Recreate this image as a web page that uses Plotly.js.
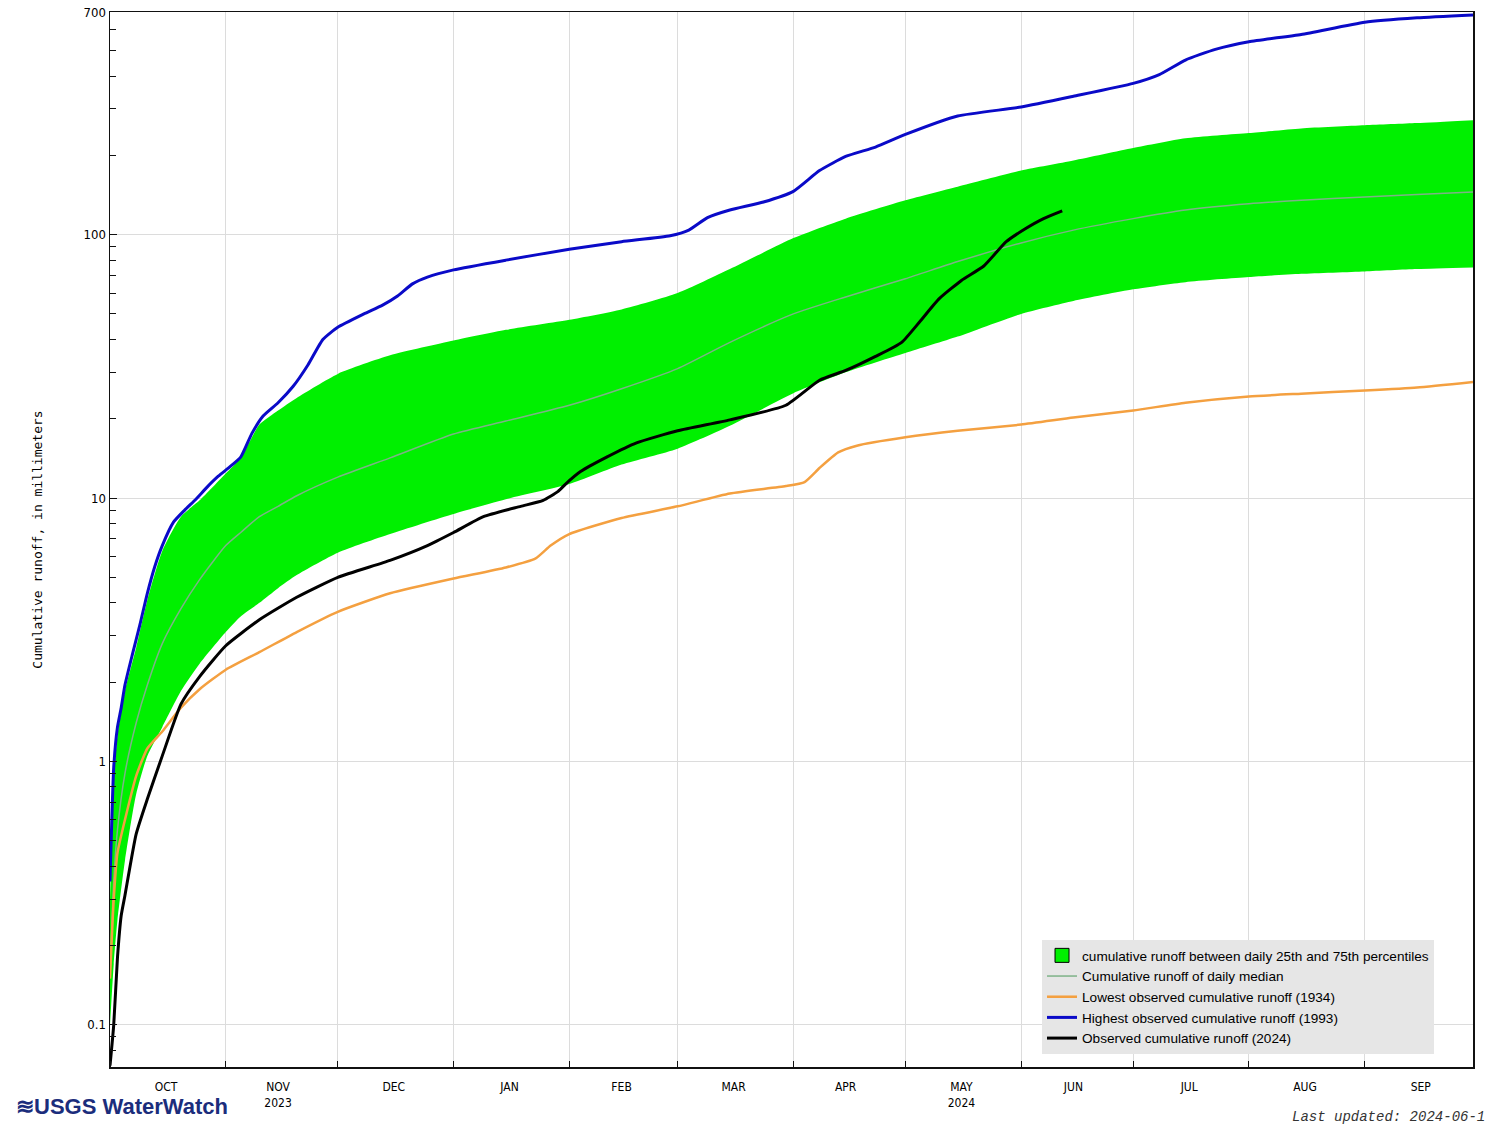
<!DOCTYPE html>
<html>
<head>
<meta charset="utf-8">
<script src="https://cdn.plot.ly/plotly-3.0.1.min.js"></script>
<style>
  html, body { margin: 0; padding: 0; background: #ffffff; }
  #chart { width: 1495px; height: 1126px; }
</style>
</head>
<body>
<div id="chart"></div>
<script>
// ---- Data (cumulative runoff, millimeters), water year Oct 2023 - Sep 2024 ----
const envelopeDates = ['2023-10-01','2023-10-02','2023-10-03','2023-10-05','2023-10-08','2023-10-11','2023-10-15','2023-10-20','2023-10-25','2023-11-01','2023-11-05','2023-11-10','2023-11-15','2023-11-20','2023-12-01','2023-12-15','2024-01-01','2024-01-15','2024-02-01','2024-02-15','2024-03-01','2024-03-15','2024-04-01','2024-04-15','2024-05-01','2024-05-15','2024-06-01','2024-06-15','2024-07-01','2024-07-15','2024-08-01','2024-08-15','2024-09-01','2024-09-15','2024-09-30'];
const p75 = [0.3, 0.85, 1.25, 1.85, 2.7, 4.1, 6.3, 8.5, 9.8, 12.4, 14.2, 19, 21.5, 24, 29.6, 34.8, 39.6, 43.5, 47.5, 52, 60, 74, 97, 115, 135, 152, 175, 191, 213, 232, 243, 253, 260, 265, 272];
const p25 = [0.1, 0.17, 0.25, 0.42, 0.75, 1.05, 1.35, 1.85, 2.35, 3.1, 3.55, 4.0, 4.55, 5.1, 6.2, 7.3, 8.7, 9.9, 11.3, 13.4, 15.4, 18.8, 25, 30, 35.5, 41, 50, 56, 62, 66, 69, 71, 72.5, 74, 75];
const median = [0.15, 0.35, 0.55, 0.9, 1.4, 1.95, 2.8, 3.8, 4.9, 6.6, 7.4, 8.5, 9.3, 10.2, 12.0, 14.2, 17.5, 19.6, 22.5, 26, 31, 39, 50, 58, 68, 79, 93, 104, 115, 124, 131, 135, 139, 142, 145];

const highDates = ['2023-10-01','2023-10-02','2023-10-03','2023-10-04','2023-10-05','2023-10-07','2023-10-09','2023-10-11','2023-10-13','2023-10-15','2023-10-18','2023-10-21','2023-10-24','2023-10-27','2023-10-30','2023-11-02','2023-11-05','2023-11-08','2023-11-11','2023-11-15','2023-11-19','2023-11-23','2023-11-27','2023-12-01','2023-12-08','2023-12-13','2023-12-17','2023-12-21','2023-12-25','2024-01-01','2024-01-15','2024-02-01','2024-02-15','2024-02-28','2024-03-04','2024-03-09','2024-03-15','2024-03-24','2024-04-01','2024-04-08','2024-04-15','2024-04-23','2024-05-01','2024-05-15','2024-06-01','2024-06-15','2024-07-01','2024-07-08','2024-07-15','2024-07-23','2024-08-01','2024-08-15','2024-09-01','2024-09-15','2024-09-30'];
const high1993 = [0.35, 0.95, 1.35, 1.6, 1.95, 2.55, 3.3, 4.35, 5.5, 6.6, 8.1, 9.0, 9.9, 11.0, 12.1, 13.1, 14.3, 17.6, 20.5, 23.0, 26.5, 32, 40, 44.5, 50, 54, 58.5, 65, 69, 73.5, 80, 88, 94, 99, 104, 116, 124, 133, 146, 175, 198, 215, 240, 282, 305, 335, 375, 405, 460, 505, 540, 575, 640, 665, 682];

const lowDates = ['2023-10-01','2023-10-02','2023-10-03','2023-10-05','2023-10-08','2023-10-11','2023-10-15','2023-10-20','2023-10-25','2023-11-01','2023-11-10','2023-11-20','2023-12-01','2023-12-15','2024-01-01','2024-01-15','2024-01-23','2024-01-27','2024-02-01','2024-02-15','2024-03-01','2024-03-15','2024-03-30','2024-04-04','2024-04-08','2024-04-13','2024-04-18','2024-05-01','2024-05-15','2024-06-01','2024-06-15','2024-07-01','2024-07-15','2024-08-01','2024-08-15','2024-09-01','2024-09-15','2024-09-30'];
const low1934 = [0.15, 0.3, 0.45, 0.6, 0.88, 1.12, 1.3, 1.6, 1.88, 2.23, 2.6, 3.1, 3.7, 4.35, 4.95, 5.45, 5.9, 6.6, 7.3, 8.4, 9.3, 10.4, 11.1, 11.5, 13.0, 14.9, 15.8, 17, 18, 19, 20.2, 21.5, 23, 24.3, 24.9, 25.6, 26.3, 27.6];

const obsDates = ['2023-10-01','2023-10-02','2023-10-03','2023-10-04','2023-10-05','2023-10-08','2023-10-11','2023-10-15','2023-10-20','2023-10-25','2023-11-01','2023-11-10','2023-11-20','2023-12-01','2023-12-15','2023-12-25','2024-01-01','2024-01-09','2024-01-19','2024-01-25','2024-01-29','2024-01-31','2024-02-04','2024-02-11','2024-02-19','2024-03-01','2024-03-15','2024-03-30','2024-04-08','2024-04-15','2024-04-23','2024-04-30','2024-05-05','2024-05-10','2024-05-16','2024-05-22','2024-05-28','2024-06-02','2024-06-07','2024-06-12'];
const obs2024 = [0.07, 0.1, 0.18, 0.26, 0.31, 0.53, 0.72, 1.05, 1.65, 2.1, 2.75, 3.45, 4.2, 5.0, 5.8, 6.6, 7.4, 8.5, 9.3, 9.8, 10.6, 11.3, 12.6, 14.3, 16.2, 18, 19.8, 22.5, 28, 30.5, 34.5, 39, 47, 57, 67, 76, 94, 105, 115, 123];

// ---- Axis labels ----
const monthStarts = ['2023-10-01','2023-11-01','2023-12-01','2024-01-01','2024-02-01','2024-03-01','2024-04-01','2024-05-01','2024-06-01','2024-07-01','2024-08-01','2024-09-01'];
const monthMids = ['2023-10-16','2023-11-15','2023-12-16','2024-01-16','2024-02-15','2024-03-16','2024-04-15','2024-05-16','2024-06-15','2024-07-16','2024-08-16','2024-09-16'];
const monthLabels = ['OCT','NOV<br>2023','DEC','JAN','FEB','MAR','APR','MAY<br>2024','JUN','JUL','AUG','SEP'];
const yTickVals = [0.1, 1, 10, 100, 700];
const yTickText = ['0.1', '1', '10', '100', '700'];
const yMinorVals = [0.08,0.09,0.2,0.3,0.4,0.5,0.6,0.7,0.8,0.9,2,3,4,5,6,7,8,9,20,30,40,50,60,70,80,90,200,300,400,500,600];

const legendNames = [
  'cumulative runoff between daily 25th and 75th percentiles',
  'Cumulative runoff of daily median',
  'Lowest observed cumulative runoff (1934)',
  'Highest observed cumulative runoff (1993)',
  'Observed cumulative runoff (2024)'
];

const GREEN = '#00f000';
const traces = [
  { x: envelopeDates, y: p25, type: 'scatter', mode: 'lines', line: { color: GREEN, width: 0, shape: 'spline', smoothing: 0.6 }, showlegend: false, hoverinfo: 'skip' },
  { x: envelopeDates, y: p75, type: 'scatter', mode: 'lines', fill: 'tonexty', fillcolor: GREEN, line: { color: GREEN, width: 0, shape: 'spline', smoothing: 0.6 }, showlegend: false, hoverinfo: 'skip' },
  { x: [null], y: [null], type: 'scatter', mode: 'markers', name: legendNames[0], marker: { symbol: 'square', size: 14, color: GREEN, line: { color: '#000', width: 1 } } },
  { x: envelopeDates, y: median, type: 'scatter', mode: 'lines', name: legendNames[1], line: { color: 'rgb(125,178,135)', width: 1.5, shape: 'spline', smoothing: 0.6 } },
  { x: lowDates, y: low1934, type: 'scatter', mode: 'lines', name: legendNames[2], line: { color: '#f4a040', width: 2.5, shape: 'spline', smoothing: 0.5 } },
  { x: highDates, y: high1993, type: 'scatter', mode: 'lines', name: legendNames[3], line: { color: '#0a0ac8', width: 3, shape: 'spline', smoothing: 0.5 } },
  { x: obsDates, y: obs2024, type: 'scatter', mode: 'lines', name: legendNames[4], line: { color: '#000000', width: 3, shape: 'spline', smoothing: 0.5 } }
];

const layout = {
  width: 1495, height: 1126,
  margin: { l: 110, r: 22, t: 12, b: 59 },
  paper_bgcolor: '#ffffff', plot_bgcolor: '#ffffff',
  font: { family: 'Liberation Sans, Arial, sans-serif', size: 13, color: '#000' },
  xaxis: {
    type: 'date',
    range: ['2023-10-01', '2024-09-30'],
    tickmode: 'array', tickvals: monthMids, ticktext: monthLabels,
    ticks: '', showgrid: false, zeroline: false,
    tickfont: { family: 'DejaVu Sans Condensed, DejaVu Sans, sans-serif', size: 12, color: '#000' },
    ticklabelstandoff: 8,
    showline: true, linecolor: '#111', linewidth: 1.5, mirror: true,
    minor: { tickmode: 'array', tickvals: monthStarts, ticks: 'inside', ticklen: 6, tickcolor: '#111', tickwidth: 1, showgrid: true, gridcolor: '#dcdcdc', gridwidth: 1 },
    fixedrange: true
  },
  yaxis: {
    type: 'log',
    range: [Math.log10(0.0692), Math.log10(700)],
    tickmode: 'array', tickvals: yTickVals, ticktext: yTickText,
    ticks: 'inside', ticklen: 7, tickcolor: '#111', tickwidth: 1,
    showgrid: true, gridcolor: '#dcdcdc', gridwidth: 1, zeroline: false,
    tickfont: { family: 'DejaVu Sans Condensed, DejaVu Sans, sans-serif', size: 13, color: '#000' },
    showline: true, linecolor: '#111', linewidth: 1.5, mirror: true,
    minor: { tickmode: 'array', tickvals: yMinorVals, ticks: 'inside', ticklen: 6, tickcolor: '#111', tickwidth: 1, showgrid: false },
    title: { text: 'Cumulative runoff, in millimeters', font: { family: 'DejaVu Sans Mono, monospace', size: 13, color: '#000' }, standoff: 38 },
    automargin: false,
    fixedrange: true
  },
  legend: {
    x: 0.9714, xanchor: 'right', y: 0.0123, yanchor: 'bottom',
    bgcolor: '#e6e6e6', borderwidth: 0,
    font: { family: 'Liberation Sans, Arial, sans-serif', size: 13.6, color: '#000' },
    tracegroupgap: 0, itemwidth: 30,
    traceorder: 'normal'
  },
  annotations: [
    { xref: 'paper', yref: 'paper', x: -0.0704, y: -0.037, xanchor: 'left', yanchor: 'middle', showarrow: false,
      text: '<b>≋USGS WaterWatch</b>', font: { family: 'Liberation Sans Narrow, Arial Narrow, Liberation Sans, sans-serif', size: 22, color: '#1b2d7c' } },
    { xref: 'paper', yref: 'paper', x: 0.8657, y: -0.0474, xanchor: 'left', yanchor: 'middle', showarrow: false,
      text: '<i>Last updated: 2024-06-1</i>', font: { family: 'Liberation Mono, DejaVu Sans Mono, monospace', size: 14, color: '#333' } }
  ],
  showlegend: true
};

Plotly.newPlot('chart', traces, layout, { staticPlot: true, displayModeBar: false });
</script>
</body>
</html>
